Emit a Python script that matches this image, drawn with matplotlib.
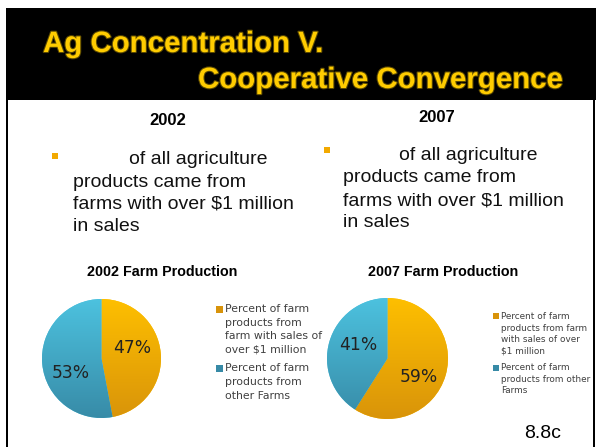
import numpy as np
import matplotlib
matplotlib.use("Agg")
import matplotlib.pyplot as plt
from matplotlib.patches import Rectangle
from matplotlib.colors import LinearSegmentedColormap
import matplotlib.patheffects as pe

# ---------------- data ----------------
title_lines = ["Ag Concentration V.", "Cooperative Convergence"]
years = ["2002", "2007"]
bullet_lines = ["of all agriculture", "products came from",
                "farms with over $1 million", "in sales"]
pie_titles = ["2002 Farm Production", "2007 Farm Production"]
share_large_farms = [47, 59]   # % from farms with sales over $1 million
share_other_farms = [53, 41]   # % from other farms
legend_2002 = [["Percent of farm", "products from", "farm with sales of", "over $1 million"],
               ["Percent of farm", "products from", "other Farms"]]
legend_2007 = [["Percent of farm", "products from farm", "with sales of over", "$1 million"],
               ["Percent of farm", "products from other", "Farms"]]
slide_id = "8.8c"

# ---------------- helpers ----------------
W, H = 596, 447
fig = plt.figure(figsize=(W / 100, H / 100), dpi=100)
fig.patch.set_facecolor("white")

def fx(x):
    return x / W

def fy(y):
    return 1 - y / H

def ftext(x, y, s, **kw):
    fig.text(fx(x), fy(y), s, **kw)

ORANGE_T, ORANGE_B = "#FFC000", "#D8930A"
BLUE_T, BLUE_B = "#4DC3E0", "#378AA6"

# header band
fig.add_artist(Rectangle((fx(6), fy(100)), fx(596) - fx(6), fy(8) - fy(100),
                         transform=fig.transFigure, facecolor="black",
                         edgecolor="none", zorder=0))
# side borders
fig.add_artist(Rectangle((fx(6), 0), fx(2.2), fy(100), transform=fig.transFigure,
                         facecolor="black", edgecolor="none"))
fig.add_artist(Rectangle((fx(593), 0), fx(1.8), fy(100), transform=fig.transFigure,
                         facecolor="black", edgecolor="none"))

title_kw = dict(family="Liberation Sans", weight="bold", fontsize=21.2,
                color="#FFCC00", va="baseline",
                path_effects=[pe.withStroke(linewidth=1.5, foreground="#5c4a00")])
ftext(43, 52, title_lines[0], ha="left", **title_kw)
ftext(198, 88, title_lines[1], ha="left", **title_kw)

# year headings
ftext(168, 125, years[0], ha="center", va="baseline", family="Liberation Sans",
      weight="bold", fontsize=12, color="black")
ftext(437, 122, years[1], ha="center", va="baseline", family="Liberation Sans",
      weight="bold", fontsize=12, color="black")

# bullets + text
body_kw = dict(family="Liberation Sans", fontsize=14, color="#111111", va="baseline")
for (bx, by, first_x, left_x, baselines) in [
        (55, 156, 129, 73, [164, 186.5, 209, 231]),
        (327, 150, 399, 343, [160, 182.5, 205, 227])]:
    fig.add_artist(Rectangle((fx(bx - 3), fy(by + 3)), fx(6), fy(0) - fy(6),
                             transform=fig.transFigure, facecolor="#F2A900",
                             edgecolor="none"))
    for i, (line, base) in enumerate(zip(bullet_lines, baselines)):
        ftext(first_x if i == 0 else left_x, base, line, ha="left", **body_kw)

# pie titles
ftext(162, 276, pie_titles[0], ha="center", va="baseline", family="Liberation Sans",
      weight="bold", fontsize=10.3, color="black")
ftext(443, 276, pie_titles[1], ha="center", va="baseline", family="Liberation Sans",
      weight="bold", fontsize=10.3, color="black")


def gradient_pie(cx, cy, r, values, label_pos):
    ax = fig.add_axes([fx(cx - r), fy(cy + r), fx(2 * r), fy(0) - fy(2 * r)])
    wedges, _ = ax.pie(values, startangle=90, counterclock=False,
                       colors=[ORANGE_T, BLUE_T], radius=1.0,
                       wedgeprops=dict(linewidth=0))
    grad = np.linspace(0, 1, 256).reshape(-1, 1)
    for w, (ct, cb) in zip(wedges, [(ORANGE_T, ORANGE_B), (BLUE_T, BLUE_B)]):
        cmap = LinearSegmentedColormap.from_list("g", [cb, ct])
        im = ax.imshow(grad, extent=[-1.05, 1.05, -1.05, 1.05], origin="lower",
                       cmap=cmap, aspect="auto", zorder=2, interpolation="bilinear")
        im.set_clip_path(w)
    for v, (lx, ly) in zip(values, label_pos):
        ax.text(lx, ly, f"{v}%", ha="center", va="center", fontsize=12.3,
                family="DejaVu Sans", color="#222222", zorder=5)
    ax.set_xlim(-1, 1)
    ax.set_ylim(-1, 1)
    ax.set_aspect("equal")
    ax.axis("off")
    return ax

gradient_pie(101.5, 358.5, 59.5, [share_large_farms[0], share_other_farms[0]],
             [(0.52, 0.18), (-0.52, -0.25)])
gradient_pie(387.5, 358.5, 60.5, [share_large_farms[1], share_other_farms[1]],
             [(0.51, -0.31), (-0.49, 0.23)])

# legends
def legend(lines_blocks, sq_x, sq_w, sq_tops, text_x, baselines, fs):
    for block, top, bases, (ct, cb) in zip(lines_blocks, sq_tops, baselines,
                                           [(ORANGE_T, ORANGE_B), (BLUE_T, BLUE_B)]):
        fig.add_artist(Rectangle((fx(sq_x), fy(top + sq_w)), fx(sq_w), fy(0) - fy(sq_w),
                                 transform=fig.transFigure, facecolor=cb,
                                 edgecolor="none"))
        for line, b in zip(block, bases):
            ftext(text_x, b, line, ha="left", va="baseline", family="DejaVu Sans",
                  fontsize=fs, color="#404040")

legend(legend_2002, 216, 6.5, [306, 365], 225,
       [[312, 325.7, 339.4, 353], [371, 385, 399]], 7.8)
legend(legend_2007, 493, 6, [313, 364.5], 500.7,
       [[319, 331, 342, 353.5], [370, 381.5, 393]], 6.4)

ftext(524, 438, slide_id, ha="left", va="baseline", family="Liberation Sans",
      fontsize=14, color="black")

fig.savefig("out.png", dpi=100, facecolor="white")
